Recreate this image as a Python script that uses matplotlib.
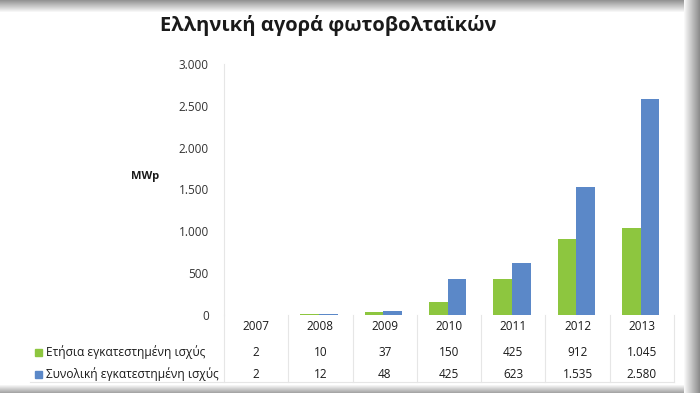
import numpy as np
import matplotlib
matplotlib.use("Agg")
from matplotlib import pyplot as plt
from matplotlib.patches import Rectangle

years = ['2007', '2008', '2009', '2010', '2011', '2012', '2013']
annual = [2, 10, 37, 150, 425, 912, 1045]
total = [2, 12, 48, 425, 623, 1535, 2580]
annual_lbl = ['2', '10', '37', '150', '425', '912', '1.045']
total_lbl = ['2', '12', '48', '425', '623', '1.535', '2.580']
series_names = ['Ετήσια εγκατεστημένη ισχύς', 'Συνολική εγκατεστημένη ισχύς']
yticks = [0, 500, 1000, 1500, 2000, 2500, 3000]
ytick_lbl = ['0', '500', '1.000', '1.500', '2.000', '2.500', '3.000']

green = '#8dc63f'
blue = '#5b88c8'
txt = '#1a1a1a'
plt.rcParams['font.family'] = ['Open Sans', 'DejaVu Sans']

W, H = 700, 393
fig = plt.figure(figsize=(7, 3.93), dpi=100)
fig.patch.set_facecolor('white')


def fx(px):
    return px / W


def fy(py):
    return 1 - py / H


# slide frame: grey shading along top, right and bottom edges
def band(x, y, w, h, g):
    fig.add_artist(Rectangle((fx(x), fy(y + h)), w / W, h / H, color=str(g),
                             lw=0, transform=fig.transFigure, zorder=0))


for k in range(12):
    band(0, k, W, 1, 0.58 + 0.42 * k / 12)
for k in range(16):
    band(684 + k, 0, 1, H, 1 - 0.45 * (k + 1) / 16)
for k in range(8):
    band(0, 385 + k, 684, 1, 1 - 0.35 * (k + 1) / 8)

x0, x1 = 224, 674
ytop, ybot = 64, 315
ax = fig.add_axes([fx(x0), fy(ybot), fx(x1 - x0), (ybot - ytop) / H])
ax.patch.set_alpha(0)
x = np.arange(len(years))
w = 0.29
ax.bar(x - w / 2 - 0.02, annual, w, color=green)
ax.bar(x + w / 2 - 0.02, total, w, color=blue)
ax.set_xlim(-0.5, len(years) - 0.5)
ax.set_ylim(0, 3000)
ax.set_yticks(yticks)
ax.set_yticklabels(ytick_lbl, fontsize=8.5, color='#333333')
ax.tick_params(axis='y', length=0, pad=11)
ax.set_xticks([])
for s in ['top', 'right', 'bottom']:
    ax.spines[s].set_visible(False)
ax.spines['left'].set_color('#e6e6e6')

fig.text(fx(145), fy(176), 'MWp', fontsize=8, fontweight='bold', color=txt,
         ha='center', va='center')
fig.text(fx(328), fy(26), 'Ελληνική αγορά φωτοβολταϊκών', fontsize=14.5,
         fontweight='bold', color=txt, ha='center', va='center')

# data table under the axis
colw = (x1 - x0) / len(years)
rows_y = [327, 352, 374]
line_c = '#e6e6e6'
for i in range(len(years) + 1):
    xp = x0 + i * colw
    fig.add_artist(plt.Line2D([fx(xp), fx(xp)], [fy(315), fy(382)],
                              color=line_c, lw=0.8))
fig.add_artist(plt.Line2D([fx(30), fx(x1)], [fy(382), fy(382)],
                          color=line_c, lw=0.8))
for i, yr in enumerate(years):
    cx = x0 + (i + 0.5) * colw
    fig.text(fx(cx), fy(rows_y[0]), yr, fontsize=8.5, color=txt,
             ha='center', va='center')
    fig.text(fx(cx), fy(rows_y[1]), annual_lbl[i], fontsize=8.5, color=txt,
             ha='center', va='center')
    fig.text(fx(cx), fy(rows_y[2]), total_lbl[i], fontsize=8.5, color=txt,
             ha='center', va='center')

for name, col, yp in zip(series_names, [green, blue], rows_y[1:]):
    fig.add_artist(Rectangle((fx(35), fy(yp + 3.5)), fx(7), 7 / H,
                             color=col, transform=fig.transFigure))
    fig.text(fx(46), fy(yp), name, fontsize=8.6, color=txt,
             ha='left', va='center')

fig.savefig('out.png', dpi=100)
